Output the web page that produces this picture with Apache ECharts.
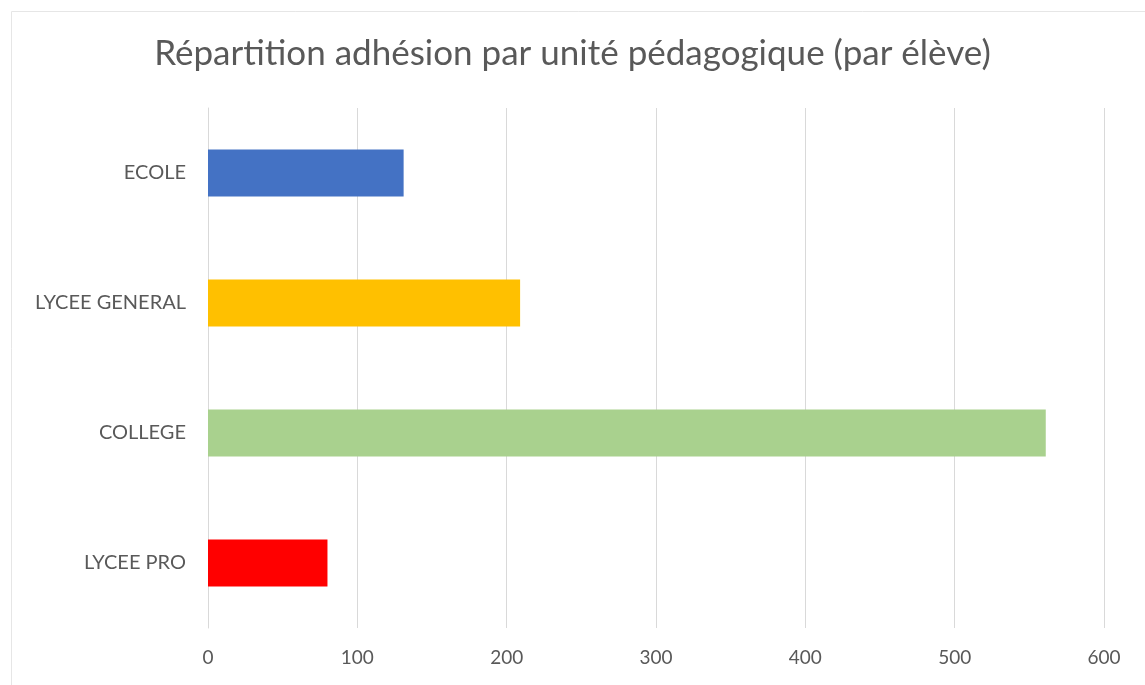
<!DOCTYPE html>
<html><head><meta charset="utf-8">
<script src="https://cdn.jsdelivr.net/npm/echarts@6/dist/echarts.min.js"></script>
<style>html,body{margin:0;padding:0;background:#fff;}#c{width:1145px;height:685px;}</style>
</head><body><div id="c"></div>
<script>
const categories = ['ECOLE', 'LYCEE GENERAL', 'COLLEGE', 'LYCEE PRO'];
const values = [131, 209, 561, 80];
const barColors = ['#4472C4', '#FFC000', '#A9D18E', '#FF0000'];
const chartTitle = 'Répartition adhésion par unité pédagogique (par élève)';

const chart = echarts.init(document.getElementById('c'));
chart.setOption({
  backgroundColor: '#fff',
  animation: false,
  graphic: [{
    type: 'rect', shape: {x: 11.5, y: 11.5, width: 1140, height: 680},
    style: {fill: 'none', stroke: '#e6e6e6', lineWidth: 1}, silent: true
  }],
  title: {
    text: chartTitle, left: 'center', top: 31,
    textStyle: {fontFamily: 'Lato', fontSize: 35, fontWeight: 'normal', color: '#595959'}
  },
  grid: {left: 208, right: 41, top: 108, bottom: 57},
  xAxis: {
    type: 'value', min: 0, max: 600, interval: 100,
    axisLine: {show: false}, axisTick: {show: false},
    splitLine: {lineStyle: {color: '#d9d9d9', width: 1}},
    axisLabel: {fontFamily: 'Lato', fontSize: 19, color: '#595959', margin: 20}
  },
  yAxis: {
    type: 'category', data: categories, inverse: true,
    axisLine: {show: true, lineStyle: {color: '#d9d9d9'}}, axisTick: {show: false},
    axisLabel: {fontFamily: 'Lato', fontSize: 20, color: '#595959', margin: 22}
  },
  series: [{
    type: 'bar', barWidth: 47,
    data: values.map((v, i) => ({value: v, itemStyle: {color: barColors[i]}}))
  }]
});
</script></body></html>
